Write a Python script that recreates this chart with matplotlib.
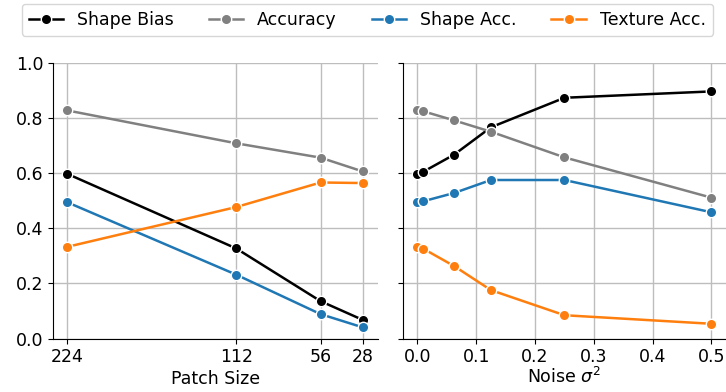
import matplotlib
matplotlib.use("Agg")
import matplotlib.pyplot as plt

# Left panel: patch size
patch_sizes = [224, 112, 56, 28]
patch_shape_bias = [0.597, 0.327, 0.136, 0.068]
patch_accuracy = [0.827, 0.708, 0.656, 0.606]
patch_shape_acc = [0.494, 0.232, 0.089, 0.041]
patch_texture_acc = [0.333, 0.477, 0.566, 0.564]

# Right panel: noise variance
noise_vars = [0.0, 0.01, 0.0625, 0.125, 0.25, 0.5]
noise_shape_bias = [0.597, 0.605, 0.667, 0.766, 0.873, 0.896]
noise_accuracy = [0.827, 0.824, 0.791, 0.750, 0.657, 0.511]
noise_shape_acc = [0.494, 0.498, 0.528, 0.575, 0.575, 0.458]
noise_texture_acc = [0.333, 0.326, 0.263, 0.176, 0.085, 0.054]

series_names = ["Shape Bias", "Accuracy", "Shape Acc.", "Texture Acc."]
colors = ["black", "grey", "tab:blue", "tab:orange"]
y_ticks = [0.0, 0.2, 0.4, 0.6, 0.8, 1.0]
noise_ticks = [0.0, 0.1, 0.2, 0.3, 0.4, 0.5]

FS = 12.5
plt.rcParams['font.family'] = ['DejaVu Sans']
plt.rcParams['font.size'] = FS

fig = plt.figure(figsize=(7.26, 3.92), dpi=100)
axL = fig.add_axes([0.0726, 0.136, 0.4474, 0.704])
axR = fig.add_axes([0.5547, 0.136, 0.4455, 0.704])

mk = dict(marker='o', markersize=7.5, markeredgecolor='white', markeredgewidth=1.0, linewidth=1.8)

left_data = [patch_shape_bias, patch_accuracy, patch_shape_acc, patch_texture_acc]
right_data = [noise_shape_bias, noise_accuracy, noise_shape_acc, noise_texture_acc]

handles = []
for name, c, ys in zip(series_names, colors, left_data):
    h, = axL.plot(patch_sizes, ys, color=c, label=name, **mk)
    handles.append(h)
for name, c, ys in zip(series_names, colors, right_data):
    axR.plot(noise_vars, ys, color=c, label=name, **mk)

for ax in (axL, axR):
    ax.set_ylim(0, 1)
    ax.set_yticks(y_ticks)
    ax.grid(True, color='#bdbdbd', linewidth=1.0)
    ax.set_axisbelow(True)
    ax.spines['top'].set_visible(False)
    ax.spines['right'].set_visible(False)
    ax.tick_params(labelsize=FS, length=3.5, pad=3)

axL.set_xticks(patch_sizes)
axL.set_xticklabels([str(p) for p in patch_sizes])
axL.set_xlim(233.8, 18.2)
axL.set_xlabel("Patch Size", fontsize=FS, labelpad=3)
axL.set_yticklabels([f"{v:.1f}" for v in y_ticks])

axR.set_xticks(noise_ticks)
axR.set_xticklabels([f"{v:.1f}" for v in noise_ticks])
axR.set_xlim(-0.025, 0.525)
axR.set_xlabel(r"Noise $\sigma^2$", fontsize=FS, labelpad=1)
axR.set_yticklabels([])

fig.legend(handles=handles, labels=series_names, loc='upper center', ncol=4,
           bbox_to_anchor=(0.506, 1.012), fontsize=FS, frameon=True,
           columnspacing=2.0, handlelength=2.0)

fig.savefig("out.png", dpi=100)
